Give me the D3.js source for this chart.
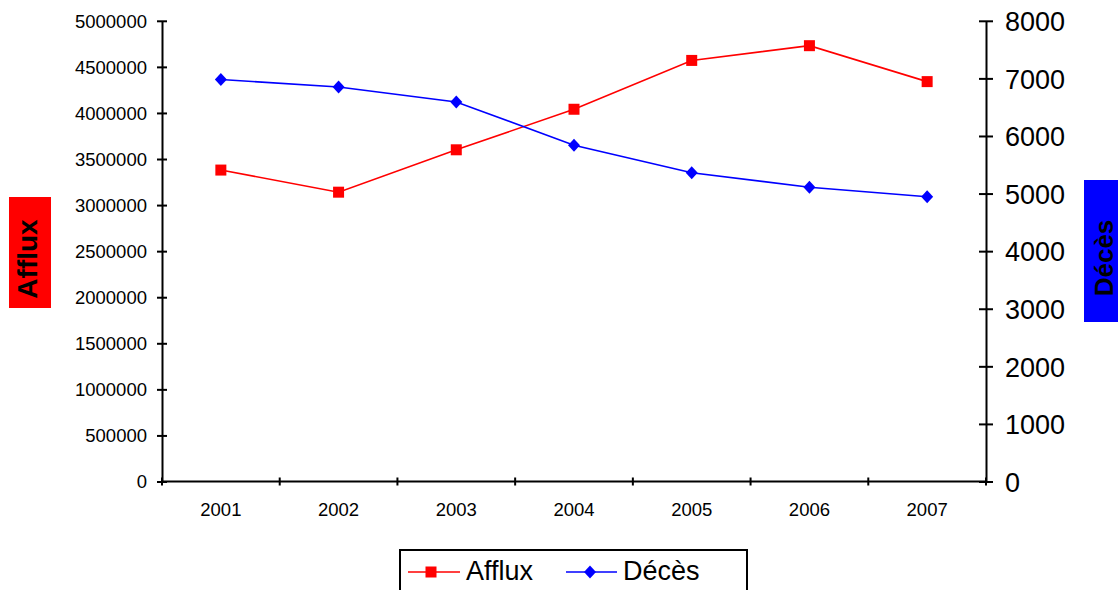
<!DOCTYPE html>
<html>
<head>
<meta charset="utf-8">
<script src="https://cdn.jsdelivr.net/npm/d3@7"></script>
<style>
  html, body { margin: 0; padding: 0; background: #fff; }
  svg { display: block; font-family: "Liberation Sans", Arial, sans-serif; }
</style>
</head>
<body>
<svg id="chart" width="1118" height="590"></svg>
<script>
const years = ["2001", "2002", "2003", "2004", "2005", "2006", "2007"];
const afflux = [3380000, 3140000, 3600000, 4040000, 4570000, 4730000, 4340000];
const deces = [6980, 6850, 6590, 5840, 5360, 5110, 4945];
const leftTicks = [0, 500000, 1000000, 1500000, 2000000, 2500000, 3000000, 3500000, 4000000, 4500000, 5000000];
const rightTicks = [0, 1000, 2000, 3000, 4000, 5000, 6000, 7000, 8000];
const seriesNames = ["Afflux", "Décès"];
const axisTitles = ["Afflux", "Décès"];

const svg = d3.select("#chart");
const plotLeft = 162, plotRight = 986, plotTop = 20.8, plotBottom = 481.5;

const x = d3.scaleBand().domain(years).range([plotLeft, plotRight]).padding(0);
const yL = d3.scaleLinear().domain([0, 5000000]).range([plotBottom, plotTop]);
const yR = d3.scaleLinear().domain([0, 8000]).range([plotBottom, plotTop]);

// Left axis
const gL = svg.append("g").attr("transform", `translate(${plotLeft},0)`)
  .call(d3.axisLeft(yL).tickValues(leftTicks).tickFormat(d3.format("d"))
    .tickSizeInner(5).tickSizeOuter(0).tickPadding(10));
gL.select(".domain").attr("stroke", "#000").attr("stroke-width", 2);
gL.selectAll(".tick line").attr("x1", 5).attr("x2", -5).attr("stroke", "#000").attr("stroke-width", 2);
gL.selectAll(".tick text").attr("font-size", 18.5).attr("fill", "#000")
  .attr("font-family", "Liberation Sans, Arial, sans-serif").attr("dy", "0.34em");

// Right axis
const gR = svg.append("g").attr("transform", `translate(${plotRight},0)`)
  .call(d3.axisRight(yR).tickValues(rightTicks).tickFormat(d3.format("d"))
    .tickSizeInner(6).tickSizeOuter(0).tickPadding(13));
gR.select(".domain").attr("stroke", "#000").attr("stroke-width", 2);
gR.selectAll(".tick line").attr("x1", -7).attr("x2", 7).attr("stroke", "#000").attr("stroke-width", 2);
gR.selectAll(".tick text").attr("font-size", 27).attr("fill", "#000")
  .attr("font-family", "Liberation Sans, Arial, sans-serif").attr("dy", "0.36em");

// Bottom axis (category boundaries as ticks)
const gB = svg.append("g");
gB.append("line").attr("x1", plotLeft).attr("x2", plotRight).attr("y1", plotBottom).attr("y2", plotBottom)
  .attr("stroke", "#000").attr("stroke-width", 2);
const bounds = years.map(d => x(d)).concat([x.range()[1]]);
gB.selectAll("line.tk").data(bounds).enter().append("line").attr("class", "tk")
  .attr("x1", d => d).attr("x2", d => d).attr("y1", plotBottom - 4).attr("y2", plotBottom + 4)
  .attr("stroke", "#000").attr("stroke-width", 2);
gB.selectAll("text").data(years).enter().append("text")
  .attr("x", d => x(d) + x.bandwidth() / 2).attr("y", 516)
  .attr("text-anchor", "middle").attr("font-size", 18.5).attr("fill", "#000")
  .text(d => d);

const cx = d => x(d) + x.bandwidth() / 2;

// Afflux line
const lineL = d3.line().x((d, i) => cx(years[i])).y(d => yL(d));
svg.append("path").datum(afflux).attr("d", lineL)
  .attr("fill", "none").attr("stroke", "#ff0000").attr("stroke-width", 1.6);
svg.selectAll("rect.mk").data(afflux).enter().append("rect").attr("class", "mk")
  .attr("x", (d, i) => cx(years[i]) - 5.5).attr("y", d => yL(d) - 5.5)
  .attr("width", 11).attr("height", 11).attr("fill", "#ff0000");

// Décès line
const lineR = d3.line().x((d, i) => cx(years[i])).y(d => yR(d));
svg.append("path").datum(deces).attr("d", lineR)
  .attr("fill", "none").attr("stroke", "#0000ff").attr("stroke-width", 1.6);
const diamond = "M0,-6.5L6,0L0,6.5L-6,0Z";
svg.selectAll("path.dm").data(deces).enter().append("path").attr("class", "dm")
  .attr("d", diamond)
  .attr("transform", (d, i) => `translate(${cx(years[i])},${yR(d)})`)
  .attr("fill", "#0000ff");

// Axis titles
svg.append("rect").attr("x", 9).attr("y", 197).attr("width", 42).attr("height", 111).attr("fill", "#ff0000");
svg.append("text").attr("transform", "translate(37,259) rotate(-90)")
  .attr("text-anchor", "middle").attr("font-size", 28).attr("font-weight", "bold").attr("fill", "#000")
  .text(axisTitles[0]);
svg.append("rect").attr("x", 1084).attr("y", 180).attr("width", 40).attr("height", 142).attr("fill", "#0000ff");
svg.append("text").attr("transform", "translate(1113,258) rotate(-90)")
  .attr("text-anchor", "middle").attr("font-size", 26).attr("font-weight", "bold").attr("fill", "#000")
  .text(axisTitles[1]);

// Legend
const lg = svg.append("g");
lg.append("rect").attr("x", 400).attr("y", 550).attr("width", 347).attr("height", 60)
  .attr("fill", "#fff").attr("stroke", "#000").attr("stroke-width", 2);
lg.append("line").attr("x1", 408).attr("x2", 460).attr("y1", 572).attr("y2", 572)
  .attr("stroke", "#ff0000").attr("stroke-width", 1.6);
lg.append("rect").attr("x", 431 - 5.5).attr("y", 572 - 5.5).attr("width", 11).attr("height", 11).attr("fill", "#ff0000");
lg.append("text").attr("x", 466).attr("y", 580).attr("font-size", 27).attr("fill", "#000").text(seriesNames[0]);
lg.append("line").attr("x1", 566).attr("x2", 617).attr("y1", 572).attr("y2", 572)
  .attr("stroke", "#0000ff").attr("stroke-width", 1.6);
lg.append("path").attr("d", diamond).attr("transform", "translate(590,572)").attr("fill", "#0000ff");
lg.append("text").attr("x", 623).attr("y", 580).attr("font-size", 27).attr("fill", "#000").text(seriesNames[1]);
</script>
</body>
</html>
